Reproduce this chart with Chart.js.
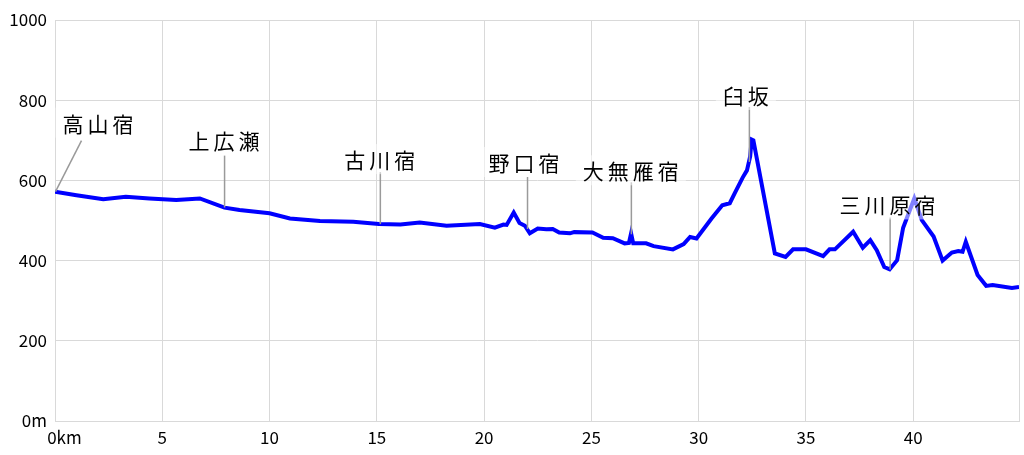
<!DOCTYPE html>
<html>
<head>
<meta charset="utf-8">
<script src="https://cdn.jsdelivr.net/npm/chart.js@4/dist/chart.umd.min.js"></script>
<style>
  html, body { margin: 0; padding: 0; background: #fff; }
  #profile { display: block; }
</style>
</head>
<body>
<canvas id="profile" width="1024" height="455"></canvas>
<script>
// distance along the route (km) and elevation (m)
const distKm = [0, 1.0, 2.25, 3.3, 4.4, 5.65, 6.75, 7.9, 8.6, 10.0, 10.95, 12.35, 13.9, 15.1, 16.1,
  17.0, 18.25, 19.8, 20.5, 20.9, 21.05, 21.38, 21.65, 21.9, 22.13, 22.5, 22.9, 23.2, 23.5, 24.0,
  24.2, 25.05, 25.55, 26.0, 26.55, 26.75, 26.85, 26.95, 27.55, 27.9, 28.8, 29.3, 29.6, 29.9,
  30.6, 31.1, 31.45, 31.7, 32.05, 32.25, 32.4, 32.47, 32.55, 33.55, 34.05, 34.4, 35.0, 35.8,
  36.1, 36.35, 37.2, 37.65, 38.0, 38.3, 38.65, 38.9, 39.25, 39.53, 40.05, 40.4, 40.95, 41.37,
  41.8, 42.1, 42.3, 42.45, 43.0, 43.4, 43.7, 44.6, 44.93];
const elevM = [572, 563, 553, 559, 555, 551, 555, 532, 526, 518, 505, 499, 497, 491, 490,
  495, 487, 491, 482, 490, 489, 520, 494, 487, 468, 480, 478, 479, 470, 468,
  471, 470, 457, 456, 443, 444, 468, 443, 443, 436, 428, 441, 459, 455,
  505, 538, 543, 570, 607, 625, 660, 702, 700, 418, 409, 428, 428, 411,
  428, 428, 472, 432, 451, 426, 384, 378, 401, 482, 555, 501, 460, 400,
  420, 424, 422, 447, 364, 337, 339, 332, 334];

// post towns / places marked on the profile
const stationNames = ["高山宿", "上広瀬", "古川宿", "野口宿", "大無雁宿", "臼坂", "三川原宿"];
const stationKm = [0, 7.88, 15.14, 22.0, 26.84, 32.34, 38.9];

const maxKm = 44.93;

// label placement: [line dx, line dy, label dx, label dy] relative to the curve point
const labelLayout = [
  [26, -51, 43, -69],
  [0, -52, 0, -67],
  [0, -52, 0, -65],
  [0, -52, -3, -67],
  [0, -52, 0, -64],
  [0, -55, -3, -67],
  [0, -52, -2, -65]
];

function elevAt(km) {
  for (let i = 1; i < distKm.length; i++) {
    if (km <= distKm[i]) {
      const t = (km - distKm[i - 1]) / (distKm[i] - distKm[i - 1]);
      return elevM[i - 1] + t * (elevM[i] - elevM[i - 1]);
    }
  }
  return elevM[elevM.length - 1];
}

const frame = {
  id: "frame",
  beforeDatasetsDraw(chart) {
    const {ctx, chartArea: a} = chart;
    ctx.save();
    ctx.strokeStyle = "#d9d9d9";
    ctx.lineWidth = 1;
    ctx.strokeRect(a.left + 0.5, a.top + 0.5, a.right - a.left, a.bottom - a.top);
    ctx.restore();
  }
};

const stations = {
  id: "stations",
  afterDatasetsDraw(chart) {
    const {ctx, scales: {x, y}} = chart;
    ctx.save();
    ctx.font = "21px 'Noto Sans CJK JP'";
    ctx.letterSpacing = "4px";
    ctx.textBaseline = "middle";
    stationNames.forEach((name, i) => {
      const px = x.getPixelForValue(stationKm[i]);
      const py = y.getPixelForValue(elevAt(stationKm[i]));
      const [ldx, ldy, tdx, tdy] = labelLayout[i];
      ctx.strokeStyle = "#9a9a9a";
      ctx.lineWidth = 1.5;
      ctx.beginPath();
      ctx.moveTo(px + 0.5, py);
      ctx.lineTo(px + ldx + 0.5, py + ldy);
      ctx.stroke();

      const w = ctx.measureText(name).width - 4;
      const cx = px + tdx, cy = py + tdy;
      ctx.fillStyle = "rgba(255,255,255,0.5)";
      ctx.fillRect(cx - w / 2 - 7, cy - 15, w + 14, 30);
      ctx.fillStyle = "#000";
      ctx.textAlign = "left";
      ctx.fillText(name, cx - w / 2, cy + 1);
    });
    ctx.restore();
  }
};

const tickFont = {family: "'Noto Sans CJK JP'", size: 17};

new Chart(document.getElementById("profile"), {
  type: "line",
  data: {
    datasets: [{
      data: distKm.map((d, i) => ({x: d, y: elevM[i]})),
      borderColor: "#0000ff",
      borderWidth: 4,
      pointRadius: 0,
      tension: 0,
      fill: false
    }]
  },
  options: {
    responsive: false,
    animation: false,
    devicePixelRatio: 1,
    layout: {padding: {top: 20, right: 5, left: 0, bottom: 0}},
    plugins: {legend: {display: false}, tooltip: {enabled: false}},
    scales: {
      x: {
        type: "linear",
        min: 0,
        max: maxKm,
        afterFit(scale) { scale.height = 34; },
        grid: {color: "#d9d9d9", drawTicks: false},
        border: {color: "#d9d9d9"},
        ticks: {
          stepSize: 5,
          includeBounds: false,
          autoSkip: false,
          maxRotation: 0,
          padding: 6,
          color: "#000",
          font: tickFont,
          callback: v => v === 0 ? "\u2007\u20070km" : v
        }
      },
      y: {
        min: 0,
        max: 1000,
        afterFit(scale) { scale.width = 55; },
        grid: {color: "#d9d9d9", drawTicks: false},
        border: {color: "#d9d9d9"},
        ticks: {
          stepSize: 200,
          padding: 8,
          color: "#000",
          font: tickFont,
          callback: v => v === 0 ? "0m" : v
        }
      }
    }
  },
  plugins: [frame, stations]
});
</script>
</body>
</html>
